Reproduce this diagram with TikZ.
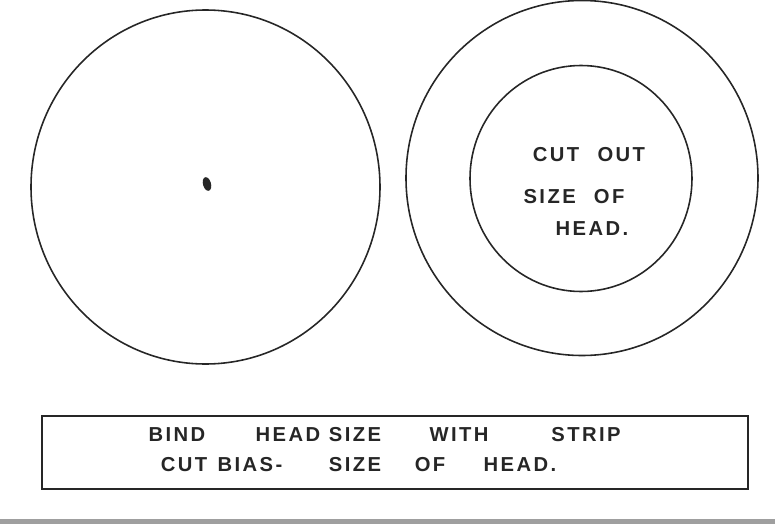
\documentclass[tikz,border=0pt]{standalone}
\usepackage{fontspec}
\setmainfont{Liberation Sans}
\usepackage{xcolor}

\begin{document}
\begin{tikzpicture}[x=0.02cm,y=-0.02cm,
  ring/.style={line width=0.9pt,black!85},
  hand/.style={font=\fontsize{11.5}{13}\selectfont\bfseries\addfontfeature{LetterSpace=12},text=black!85,inner sep=0pt}]
  \useasboundingbox (0,0) rectangle (775,524);

  % Left disc with its centre mark
  \draw[ring] (205.5,187) ellipse [x radius=174.5,y radius=177];
  \fill[black!85,rotate around={15:(207,184)}] (207,184) ellipse [x radius=4,y radius=7];

  % Right disc and the cut-out
  \draw[ring] (582,178) ellipse [x radius=176,y radius=177.5];
  \draw[ring] (581,178.5) ellipse [x radius=111,y radius=113];
  \node[hand] (cut)  at (589,155) {CUT\hspace{0.9em}OUT};
  \node[hand] (size) at (574,197) {SIZE\hspace{0.9em}OF};
  \node[hand] (head) at (592,229) {HEAD.};

  % Note box
  \draw[line width=1.6pt,black!85] (42,416) rectangle (748,489);
  \foreach \x/\w/\n in {177/BIND/a,288/HEAD/b,355/SIZE/c,459/WITH/d,586/STRIP/e}
    \node[hand] (top\n) at (\x,435) {\w};
  \foreach \x/\w/\n in {184/CUT/a,250/BIAS-/b,355/SIZE/c,430/OF/d,520/HEAD./e}
    \node[hand] (low\n) at (\x,465) {\w};

  % Page edge
  \fill[gray!75] (0,519) rectangle (775,524);
\end{tikzpicture}
\end{document}
